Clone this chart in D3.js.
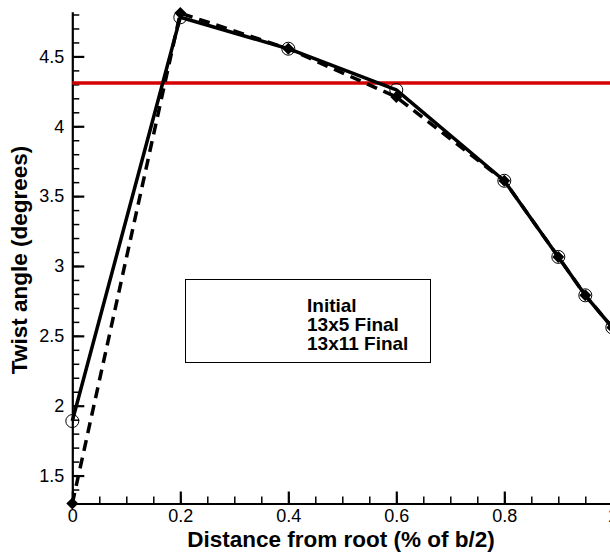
<!DOCTYPE html>
<html>
<head>
<meta charset="utf-8">
<script src="https://cdn.jsdelivr.net/npm/d3@7"></script>
<style>
  html, body { margin: 0; padding: 0; background: #fff; }
  svg { display: block; font-family: "Liberation Sans", Arial, Helvetica, sans-serif; }
</style>
</head>
<body>
<svg id="chart" width="610" height="552"></svg>
<script>
// Spanwise stations (fraction of semi-span)
const stations = [0, 0.2, 0.4, 0.6, 0.8, 0.9, 0.95, 1.0];
// Twist distributions (degrees)
const initialStations = [0, 1.0];
const initialTwist = [4.31, 4.31];
const final13x5 = [1.89, 4.78, 4.555, 4.26, 3.61, 3.065, 2.79, 2.56];
const final13x11 = [1.3, 4.81, 4.555, 4.21, 3.61, 3.065, 2.79, 2.56];
// Legend entries
const legendLabels = ["Initial", "13x5 Final", "13x11 Final"];
// Axis ticks
const xMajorTicks = [0, 0.2, 0.4, 0.6, 0.8, 1.0];
const xMinorTicks = d3.range(0, 1.0001, 0.05);
const yMajorTicks = [1.5, 2, 2.5, 3, 3.5, 4, 4.5];
const yMinorTicks = d3.range(1.4, 4.8001, 0.1);

const svg = d3.select("#chart");

const x = d3.scaleLinear().domain([0, 1]).range([72.3, 612.3]);
const y = d3.scaleLinear().domain([1.3, 4.82]).range([503.5, 11.7]);

// Minor ticks
svg.append("g")
  .attr("transform", `translate(0,${y(1.3)})`)
  .call(d3.axisBottom(x).tickValues(xMinorTicks).tickSize(-7).tickSizeOuter(0).tickFormat(""))
  .call(g => g.select(".domain").remove())
  .call(g => g.selectAll("line").attr("stroke", "#000").attr("stroke-width", 1.5));
svg.append("g")
  .attr("transform", `translate(${x(0)},0)`)
  .call(d3.axisLeft(y).tickValues(yMinorTicks).tickSize(-7).tickSizeOuter(0).tickFormat(""))
  .call(g => g.select(".domain").remove())
  .call(g => g.selectAll("line").attr("stroke", "#000").attr("stroke-width", 1.5));

// Major axes
const xAxis = svg.append("g")
  .attr("transform", `translate(0,${y(1.3)})`)
  .call(d3.axisBottom(x).tickValues(xMajorTicks).tickSize(-12).tickSizeOuter(0).tickPadding(6)
    .tickFormat(d => d3.format("")(+d.toFixed(1))));
const yAxis = svg.append("g")
  .attr("transform", `translate(${x(0)},0)`)
  .call(d3.axisLeft(y).tickValues(yMajorTicks).tickSize(-12).tickSizeOuter(0).tickPadding(8)
    .tickFormat(d => String(d)));

[xAxis, yAxis].forEach(g => {
  g.select(".domain").attr("stroke", "#000").attr("stroke-width", 2.2);
  g.selectAll(".tick line").attr("stroke", "#000").attr("stroke-width", 2.2);
  g.selectAll(".tick text").attr("fill", "#000").attr("font-size", 18)
    .attr("font-family", "'Liberation Sans', Arial, sans-serif");
});
xAxis.selectAll(".tick text").attr("y", 6).attr("dy", "0.71em");

const line = d3.line().x(d => x(d[0])).y(d => y(d[1]));

// Initial twist (red)
svg.append("path")
  .datum(initialStations.map((s, i) => [s, initialTwist[i]]))
  .attr("fill", "none")
  .attr("stroke", "#d40000")
  .attr("stroke-width", 3.5)
  .attr("d", line);

// 13x5 final: solid line, open circles
const s5 = stations.map((s, i) => [s, final13x5[i]]);
svg.append("path").datum(s5)
  .attr("fill", "none").attr("stroke", "#000").attr("stroke-width", 3.5)
  .attr("stroke-linejoin", "round")
  .attr("d", line);

// 13x11 final: dashed line, filled diamonds
const s11 = stations.map((s, i) => [s, final13x11[i]]);
svg.append("path").datum(s11)
  .attr("fill", "none").attr("stroke", "#000").attr("stroke-width", 3.5)
  .attr("stroke-dasharray", "11,7")
  .attr("d", line);

svg.append("g").selectAll("path").data(s11).join("path")
  .attr("transform", d => `translate(${x(d[0])},${y(d[1])}) rotate(45)`)
  .attr("d", d3.symbol(d3.symbolSquare, 72))
  .attr("fill", "#000");

svg.append("g").selectAll("circle").data(s5).join("circle")
  .attr("cx", d => x(d[0])).attr("cy", d => y(d[1])).attr("r", 6.5)
  .attr("fill", "none").attr("stroke", "#000").attr("stroke-width", 1);

// Legend
svg.append("rect")
  .attr("x", 185.5).attr("y", 279.5).attr("width", 245).attr("height", 83)
  .attr("fill", "#fff").attr("stroke", "#000").attr("stroke-width", 1);
svg.append("g").selectAll("text").data(legendLabels).join("text")
  .attr("x", 307).attr("y", (d, i) => 312 + i * 19)
  .attr("font-size", 19).attr("font-weight", "bold").attr("fill", "#000")
  .text(d => d);

// Axis titles
svg.append("text")
  .attr("x", 341).attr("y", 547)
  .attr("text-anchor", "middle")
  .attr("font-size", 22.5).attr("font-weight", "bold")
  .text("Distance from root (% of b/2)");
svg.append("text")
  .attr("transform", "translate(27,260) rotate(-90)")
  .attr("text-anchor", "middle")
  .attr("font-size", 22.5).attr("font-weight", "bold")
  .text("Twist angle (degrees)");
</script>
</body>
</html>
